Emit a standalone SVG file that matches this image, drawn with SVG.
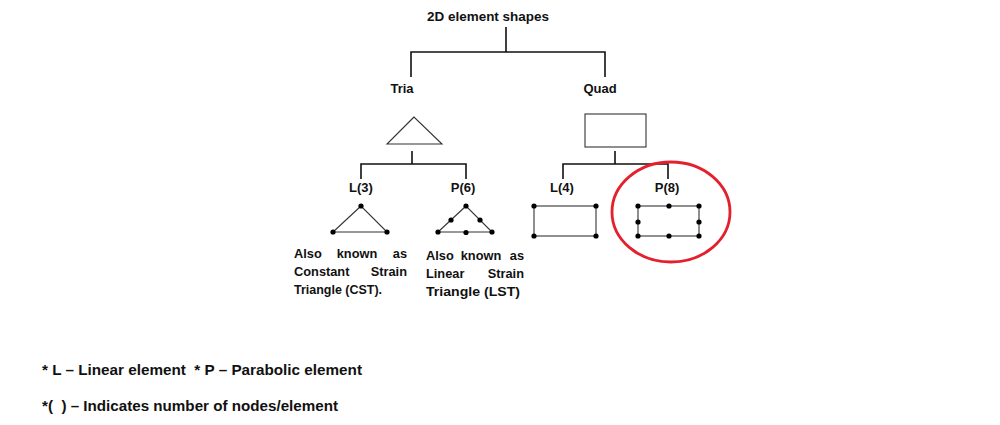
<svg xmlns="http://www.w3.org/2000/svg" width="1000" height="425" viewBox="0 0 1000 425">
<style>
text{font-family:"Liberation Sans",Arial,sans-serif;font-weight:bold;fill:#111}
.lbl{font-size:13px;text-anchor:middle}
.t{font-size:12.8px}
.leg{font-size:15px}
.conn{stroke:#111;stroke-width:1.6;fill:none}
.shape{stroke:#333;stroke-width:1.1;fill:#fff}
.dot{fill:#000}
</style>
<rect width="1000" height="425" fill="#fff"/>
<g id="connectors">
<path class="conn" d="M506,27V52M411,77V52H605V77"/>
<path class="conn" d="M412,151V164M361,179V164H466V179"/>
<path class="conn" d="M615,151V164M563,179V164H668V179"/>
</g>
<g id="root"><text class="lbl" x="488" y="21" font-size="13.5" textLength="122" lengthAdjust="spacingAndGlyphs">2D element shapes</text></g>
<g id="tria">
<text class="lbl" x="402" y="93">Tria</text>
<polygon class="shape" points="414,117 387,144 442,144"/>
</g>
<g id="quad">
<text class="lbl" x="600" y="93">Quad</text>
<rect class="shape" x="585" y="114" width="61" height="33"/>
</g>
<g id="l3">
<text class="lbl" x="361" y="192">L(3)</text>
<polygon class="shape" points="361,206 333,232 387,232"/>
<circle class="dot" cx="361" cy="206" r="2.6"/><circle class="dot" cx="333" cy="232" r="2.6"/><circle class="dot" cx="387" cy="232" r="2.6"/>
<text class="t" x="294" y="258">Also</text><text class="t" x="357" y="258" text-anchor="middle">known</text><text class="t" x="407" y="258" text-anchor="end">as</text>
<text class="t" x="294" y="276">Constant</text><text class="t" x="407" y="276" text-anchor="end">Strain</text>
<text class="t" x="294" y="294" textLength="88" lengthAdjust="spacingAndGlyphs">Triangle (CST).</text>
</g>
<g id="p6">
<text class="lbl" x="463" y="192">P(6)</text>
<polygon class="shape" points="466,206 438,232 492,232"/>
<circle class="dot" cx="466" cy="206" r="2.6"/><circle class="dot" cx="438" cy="232" r="2.6"/><circle class="dot" cx="492" cy="232" r="2.6"/>
<circle class="dot" cx="451" cy="220" r="2.6"/><circle class="dot" cx="480" cy="220" r="2.6"/><circle class="dot" cx="466" cy="232.5" r="2.6"/>
<text class="t" x="426" y="260">Also</text><text class="t" x="481" y="260" text-anchor="middle">known</text><text class="t" x="524" y="260" text-anchor="end">as</text>
<text class="t" x="426" y="278">Linear</text><text class="t" x="524" y="278" text-anchor="end">Strain</text>
<text class="t" x="426" y="296" textLength="94" lengthAdjust="spacingAndGlyphs">Triangle (LST)</text>
</g>
<g id="l4">
<text class="lbl" x="562" y="192">L(4)</text>
<rect class="shape" x="534" y="206" width="62" height="30"/>
<circle class="dot" cx="534" cy="206" r="2.6"/><circle class="dot" cx="596" cy="206" r="2.6"/><circle class="dot" cx="534" cy="236" r="2.6"/><circle class="dot" cx="596" cy="236" r="2.6"/>
</g>
<g id="p8">
<text class="lbl" x="667" y="192">P(8)</text>
<rect class="shape" x="638" y="206" width="61" height="30"/>
<circle class="dot" cx="638" cy="206" r="2.6"/><circle class="dot" cx="669" cy="206" r="2.6"/><circle class="dot" cx="699" cy="206" r="2.6"/>
<circle class="dot" cx="638" cy="222" r="2.6"/><circle class="dot" cx="699" cy="222" r="2.6"/>
<circle class="dot" cx="638" cy="236" r="2.6"/><circle class="dot" cx="669" cy="236" r="2.6"/><circle class="dot" cx="699" cy="236" r="2.6"/>
<ellipse cx="671" cy="212" rx="59" ry="50" fill="none" stroke="#e3202b" stroke-width="2.8"/>
</g>
<g id="legend">
<text class="leg" x="42" y="375" xml:space="preserve" textLength="320" lengthAdjust="spacingAndGlyphs">* L – Linear element  * P – Parabolic element</text>
<text class="leg" x="42" y="411" xml:space="preserve" textLength="296" lengthAdjust="spacingAndGlyphs">*(  ) – Indicates number of nodes/element</text>
</g>
</svg>
